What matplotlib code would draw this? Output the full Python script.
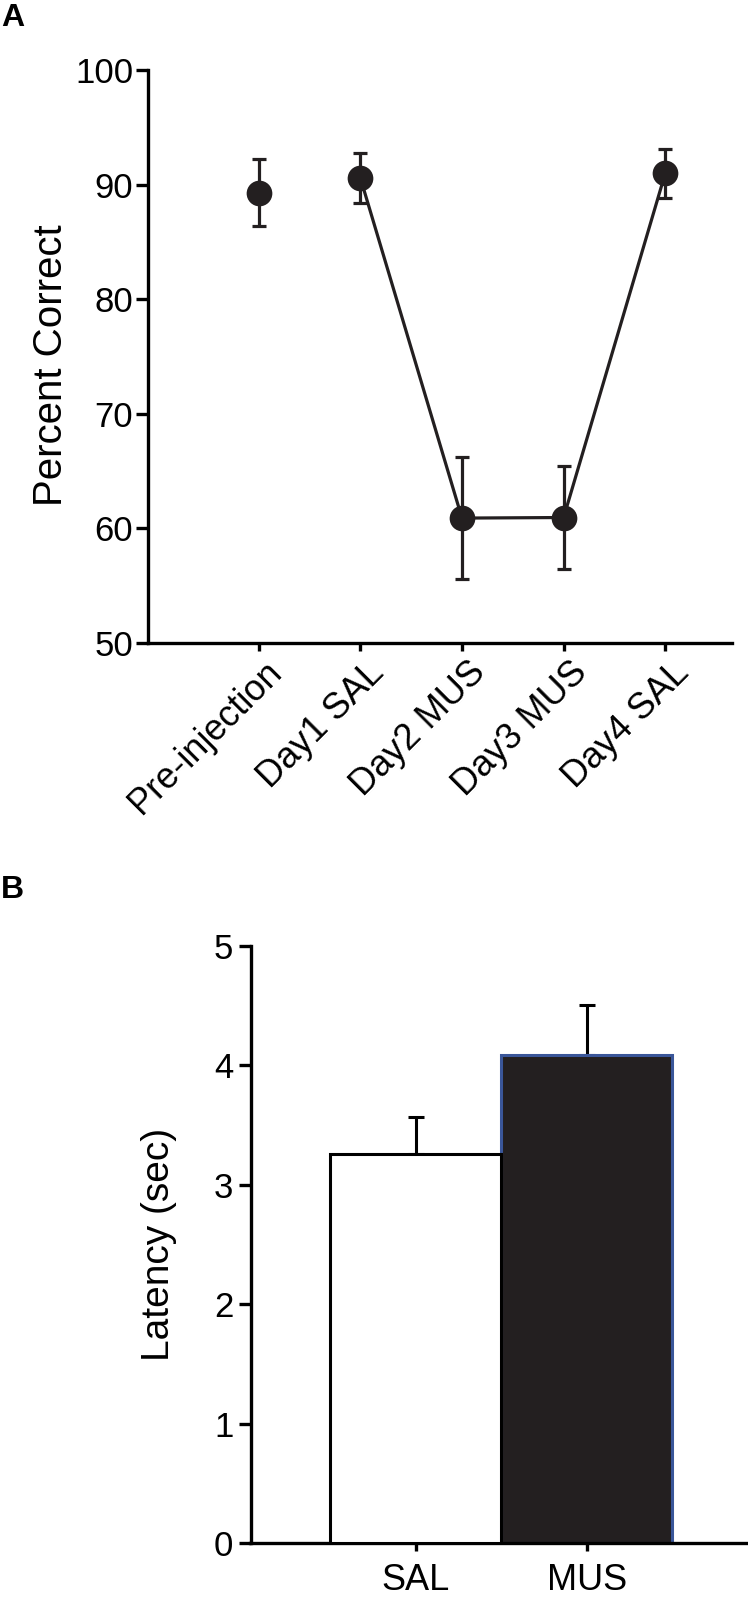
import matplotlib
matplotlib.use("Agg")
import matplotlib.pyplot as plt
import matplotlib.transforms as mtransforms

plt.rcParams['font.family'] = ['Liberation Sans', 'DejaVu Sans']

# ---- data ----
conditions = ["Pre-injection", "Day1 SAL", "Day2 MUS", "Day3 MUS", "Day4 SAL"]
pct_correct = [89.3, 90.6, 60.9, 60.95, 91.0]
pct_err = [2.95, 2.2, 5.35, 4.5, 2.15]

groups = ["SAL", "MUS"]
latency = [3.26, 4.09]
latency_err = [0.31, 0.42]

DARK = '#231f20'
W, H = 748, 1600
fig = plt.figure(figsize=(W / 100, H / 100), dpi=100)

def px_axes(left, top, right, bottom):
    return fig.add_axes([left / W, 1 - bottom / H, (right - left) / W, (bottom - top) / H])

# ---------- Panel A ----------
axA = px_axes(147.5, 70, 732, 643)
xs = list(range(len(conditions)))
axA.errorbar(xs, pct_correct, yerr=pct_err, fmt='none', ecolor=DARK,
             elinewidth=2.3, capsize=5, capthick=2.3, zorder=2)
axA.plot(xs[1:], pct_correct[1:], color=DARK, lw=2.3, zorder=3)
axA.plot(xs, pct_correct, 'o', color=DARK, markersize=18.5, markeredgewidth=0, zorder=4)
axA.set_xlim(-1.093, 4.656)
axA.set_ylim(50, 100)
axA.set_yticks([50, 60, 70, 80, 90, 100])
axA.set_xticks(xs)
axA.set_xticklabels(conditions, rotation=45, ha='right', va='center',
                    rotation_mode='anchor', fontsize=26)
axA.set_ylabel("Percent Correct", fontsize=29, va='center')
axA.yaxis.set_label_coords((51 - 147.5) / 584.5, 0.485)

# ---------- Panel B ----------
axB = px_axes(250.5, 946, 748, 1543)
bx = [0, 1]
axB.errorbar(bx, latency, yerr=[[0, 0], latency_err], fmt='none', ecolor='black',
             elinewidth=2.2, capsize=5.6, capthick=2.2, zorder=1)
axB.bar(bx[1], latency[1], width=1.0, color=DARK, edgecolor='#3a5699',
        linewidth=2.2, zorder=2)
axB.bar(bx[0], latency[0], width=1.0, color='white', edgecolor='black',
        linewidth=2.2, zorder=3)
axB.set_xlim(-0.965, 1.943)
axB.set_ylim(0, 5)
axB.set_yticks([0, 1, 2, 3, 4, 5])
axB.set_xticks(bx)
axB.set_xticklabels(groups, fontsize=26)
axB.set_ylabel("Latency (sec)", fontsize=28, va='center')
axB.yaxis.set_label_coords((159 - 250.5) / 497.5, 0.5)

for ax in (axA, axB):
    for s in ('top', 'right'):
        ax.spines[s].set_visible(False)
    for s in ('left', 'bottom'):
        ax.spines[s].set_linewidth(2.4)
        ax.spines[s].set_color('black')
    ax.tick_params(axis='y', length=8.4, width=2.4, labelsize=25, pad=2)
    ax.tick_params(axis='x', length=5.5, width=2.4, pad=4)

axB.tick_params(axis='y', pad=4)
axB.tick_params(axis='x', pad=9)

# shift rotated category labels (applied after tick_params so it is kept)
offset = mtransforms.ScaledTranslation(13 / 72, -8 / 72, fig.dpi_scale_trans)
for lab in axA.get_xticklabels():
    lab.set_transform(lab.get_transform() + offset)

fig.text(1 / W, 1 - 18 / H, "A", fontsize=23, fontweight='bold', va='center', ha='left')
fig.text(1 / W, 1 - 890 / H, "B", fontsize=23, fontweight='bold', va='center', ha='left')

fig.savefig("out.png", dpi=100)
